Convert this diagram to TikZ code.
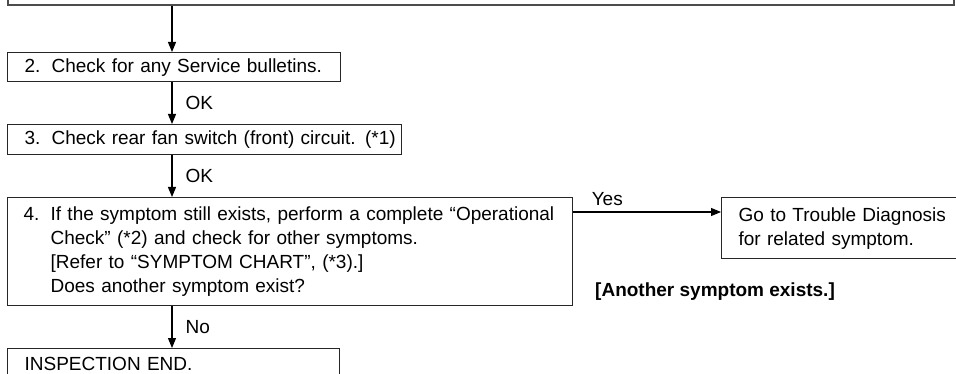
\documentclass[tikz,border=0pt]{standalone}
\usepackage{fontspec}
\setmainfont{Liberation Sans}
\usetikzlibrary{arrows.meta}
\begin{document}
\begin{tikzpicture}[x=1pt,y=-1pt,
  txt/.style={font=\fontsize{19}{24}\selectfont},
  box/.style={txt, draw=black!85, line width=1.2pt, anchor=north west, align=left, inner ysep=0pt, inner xsep=17pt},
  arr/.style={draw=black, line width=1.1pt, -{Triangle[length=10pt,width=8pt]}},
  lbl/.style={txt, inner sep=0pt, anchor=west},
]
\useasboundingbox (0,0) rectangle (956,374);
\begin{scope}
\clip (0,0) rectangle (956,374);
\node[box, anchor=south west, minimum width=946pt, minimum height=40pt, draw=black!70, line width=1.6pt] (top) at (7,6) {};
\node[box, text width=299pt, minimum height=29pt] (b2) at (7,52)
  {\mbox{\makebox[27pt][l]{2.}Check for any Service bulletins.}};
\node[box, text width=360pt, minimum height=30pt] (b3) at (7,124)
  {\mbox{\makebox[27pt][l]{3.}Check rear fan switch (front) circuit. (*1)}};
\node[box, text width=533pt, minimum height=108pt, inner xsep=16pt] (b4) at (7,197)
  {\mbox{\makebox[27pt][l]{4.}If the symptom still exists, perform a complete “Operational}\\
   \mbox{\hspace*{27pt}Check” (*2) and check for other symptoms.}\\
   \mbox{\hspace*{27pt}[Refer to “SYMPTOM CHART”, (*3).]}\\
   \mbox{\hspace*{27pt}Does another symptom exist?}};
\node[box, text width=235pt, minimum height=61pt] (go) at (721,197)
  {Go to Trouble Diagnosis\\for related symptom.};
\node[box, text width=298pt, minimum height=31pt] (end) at (7,348)
  {INSPECTION END.};
\node[lbl, font=\fontsize{19}{24}\selectfont\bfseries] (another) at (595,292) {[Another symptom exists.]};
\coordinate (ax) at (172,0);
\coordinate (ay) at (0,212);
\draw[arr] (ax |- top.south) -- (ax |- b2.north);
\draw[arr] (ax |- b2.south) -- node[lbl, xshift=13pt] (ok1) {OK} (ax |- b3.north);
\draw[arr] (ax |- b3.south) -- node[lbl, xshift=13pt] (ok2) {OK} (ax |- b4.north);
\draw[arr] (ax |- b4.south) -- node[lbl, xshift=13pt] (no) {No} (ax |- end.north);
\draw[arr] (b4.east |- ay) -- node[lbl, pos=0, anchor=south west, xshift=18pt, yshift=6pt] (yes) {Yes} (go.west |- ay);
\end{scope}
\end{tikzpicture}
\end{document}
